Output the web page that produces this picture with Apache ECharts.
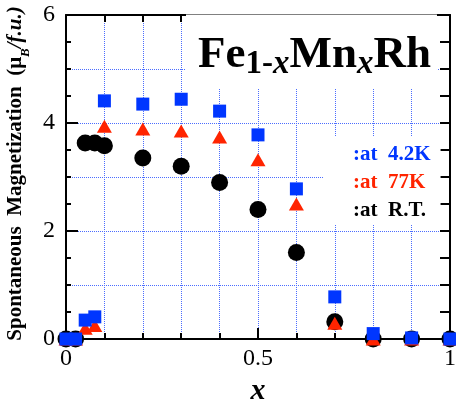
<!DOCTYPE html>
<html><head><meta charset="utf-8">
<script src="https://cdn.jsdelivr.net/npm/echarts@6/dist/echarts.min.js"></script>
<style>html,body{margin:0;padding:0;background:#fff}#c{width:456px;height:403px}</style>
</head><body><div id="c"></div>
<script>
// ---- data ----
const xValues = [0, 0.025, 0.05, 0.075, 0.1, 0.2, 0.3, 0.4, 0.5, 0.6, 0.7, 0.8, 0.9, 1.0];
const m42K = [0, 0, 0.35, 0.41, 4.41, 4.35, 4.44, 4.22, 3.78, 2.78, 0.78, 0.1, 0.02, 0];
const m77K = [0, 0, 0.2, 0.25, 3.94, 3.89, 3.85, 3.74, 3.32, 2.5, 0.29, 0, 0, 0];
const mRT  = [0, 0, 3.63, 3.63, 3.58, 3.35, 3.2, 2.9, 2.4, 1.6, 0.32, 0, 0, 0];
const xTickLabels = ['0', '0.5', '1'];
const yTickLabels = ['0', '2', '4', '6'];
const seriesNames = [':at  4.2K', ':at  77K', ':at  R.T.'];

const SERIF = 'Liberation Serif';
const BLUE = '#0036ff', RED = '#ff2400', BLACK = '#000';
function grid() { return { color: '#4b6dff', type: 'dotted', width: 1 }; }
function axl() { return { color: '#000', width: 2 }; }

function pairs(ys) { return xValues.map((x, i) => [x, ys[i]]); }

const chart = echarts.init(document.getElementById('c'), null, { renderer: 'canvas' });
chart.setOption({
  animation: false,
  backgroundColor: '#fff',
  title: {
    text: '{m|Fe}{s|1-}{si|x}{m|Mn}{si|x}{m|Rh}',
    left: 186, top: 15,
    padding: [15, 6, 8, 12],
    backgroundColor: '#fff',
    textStyle: {
      fontFamily: SERIF, fontSize: 45, fontWeight: 'bold', color: '#000',
      rich: {
        m: { fontFamily: SERIF, fontWeight: 'bold', fontSize: 45, lineHeight: 50, color: '#000' },
        s: { fontFamily: SERIF, fontWeight: 'bold', fontSize: 33, lineHeight: 32, padding: [18, 0, 0, 0], color: '#000' },
        si: { fontFamily: SERIF, fontWeight: 'bold', fontStyle: 'italic', fontSize: 33, lineHeight: 32, padding: [18, 0, 0, 0], color: '#000' }
      }
    }
  },
  legend: {
    orient: 'vertical', left: 324, top: 136,
    padding: [8, 10, 3, 24],
    itemWidth: 0, itemHeight: 0, itemGap: 7,
    backgroundColor: '#fff',
    selectedMode: false,
    textStyle: { fontFamily: SERIF, fontWeight: 'bold', fontSize: 21 },
    data: [
      { name: seriesNames[0], textStyle: { color: BLUE } },
      { name: seriesNames[1], textStyle: { color: RED } },
      { name: seriesNames[2], textStyle: { color: BLACK } }
    ]
  },
  grid: { left: 66, right: 6, top: 15, bottom: 64, outerBoundsMode: 'none' },
  xAxis: [{
    type: 'value', position: 'bottom', min: 0, max: 1, interval: 0.5,
    axisLine: { show: true, onZero: false, lineStyle: axl() },
    axisTick: { show: true, inside: true, length: 11, lineStyle: axl() },
    minorTick: { show: true, splitNumber: 5, length: 6, lineStyle: axl() },
    axisLabel: { fontFamily: SERIF, fontSize: 24, color: '#000', margin: 8,
      formatter: (v, i) => xTickLabels[i] },
    splitLine: { show: true, lineStyle: grid() },
    minorSplitLine: { show: true, lineStyle: grid() },
    name: 'x', nameLocation: 'middle', nameGap: 34,
    nameTextStyle: { fontFamily: SERIF, fontStyle: 'italic', fontWeight: 'bold', fontSize: 30, color: '#000' }
  }, {
    type: 'value', position: 'top', min: 0, max: 1, interval: 0.1,
    axisLine: { show: true, onZero: false, lineStyle: axl() },
    axisTick: { show: true, inside: true, length: 7, lineStyle: axl() },
    axisLabel: { show: false },
    splitLine: { show: false }
  }],
  yAxis: [{
    type: 'value', position: 'left', min: 0, max: 6, interval: 2,
    axisLine: { show: true, onZero: false, lineStyle: axl() },
    axisTick: { show: true, inside: true, length: 12, lineStyle: axl() },
    minorTick: { show: true, splitNumber: 4, length: 5, lineStyle: axl() },
    axisLabel: { fontFamily: SERIF, fontSize: 24, color: '#000', margin: 11,
      formatter: (v, i) => yTickLabels[i] },
    splitLine: { show: false },
    name: '{r|Spontaneous  Magnetization  (}{mu|μ}{b|B}{i|/f.u.)}',
    nameLocation: 'middle', nameGap: 33,
    nameTextStyle: {
      fontFamily: SERIF, fontSize: 21, fontWeight: 'bold', color: '#000',
      padding: [0, 0, 0, 7],
      rich: {
        r: { fontFamily: SERIF, fontWeight: 'bold', fontSize: 21, lineHeight: 24, color: '#000' },
        mu: { fontFamily: SERIF, fontSize: 21, lineHeight: 24, color: '#000' },
        b: { fontFamily: SERIF, fontStyle: 'italic', fontWeight: 'bold', fontSize: 13, lineHeight: 13, padding: [20, 0, 0, 0], color: '#000' },
        i: { fontFamily: SERIF, fontStyle: 'italic', fontWeight: 'bold', fontSize: 21, lineHeight: 24, color: '#000' }
      }
    }
  }, {
    type: 'value', position: 'right', min: 0, max: 6, interval: 1,
    axisLine: { show: true, onZero: false, lineStyle: axl() },
    axisTick: { show: true, inside: true, length: 10, lineStyle: axl() },
    minorTick: { show: true, splitNumber: 2, length: 10, lineStyle: axl() },
    axisLabel: { show: false },
    splitLine: { show: true, lineStyle: grid() }
  }],
  series: [{
    name: seriesNames[2], type: 'scatter', xAxisIndex: 0, yAxisIndex: 0, clip: false, z: 2,
    symbol: 'circle', symbolSize: 17, itemStyle: { color: BLACK, opacity: 1 },
    data: pairs(mRT)
  }, {
    name: seriesNames[1], type: 'scatter', xAxisIndex: 0, yAxisIndex: 0, clip: false, z: 3,
    symbol: 'triangle', symbolSize: [15, 13], itemStyle: { color: RED, opacity: 1 },
    data: pairs(m77K)
  }, {
    name: seriesNames[0], type: 'scatter', xAxisIndex: 0, yAxisIndex: 0, clip: false, z: 4,
    symbol: 'rect', symbolSize: 13, itemStyle: { color: BLUE, opacity: 1 },
    data: pairs(m42K)
  }]
});
</script></body></html>
